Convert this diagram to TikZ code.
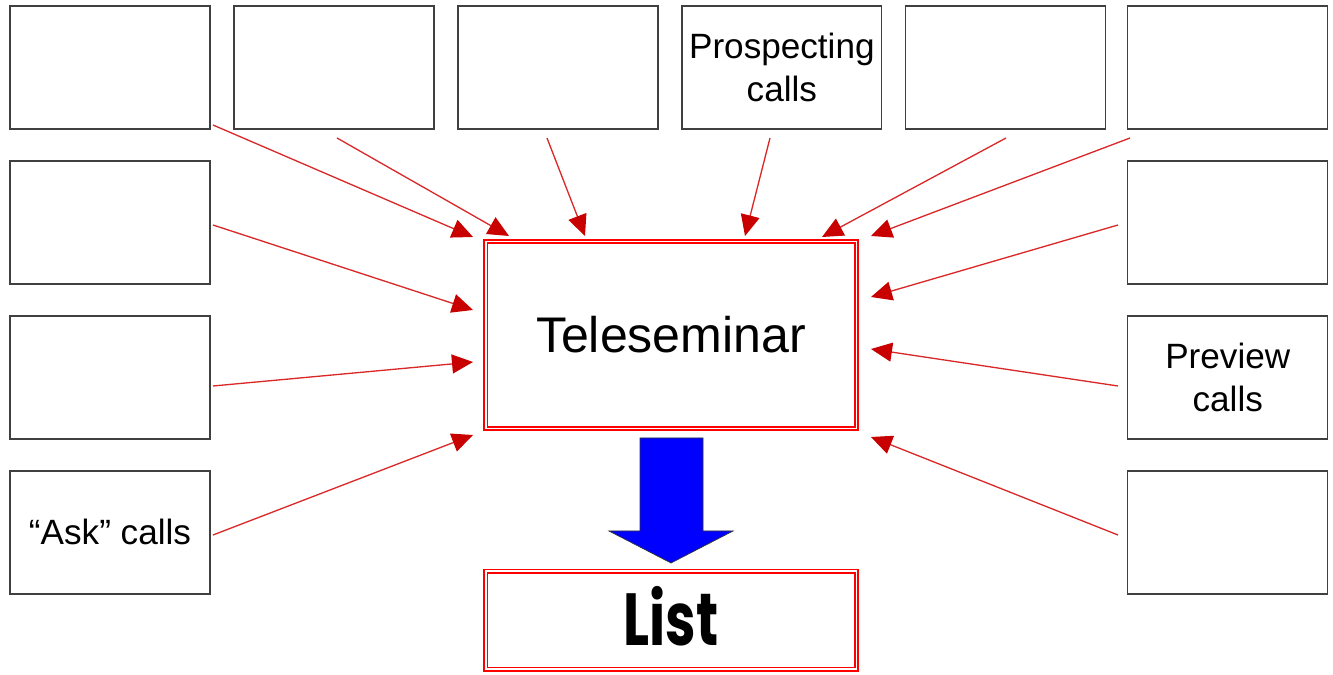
\documentclass[tikz,border=0pt]{standalone}
\usepackage{fontspec}
\setmainfont{Liberation Sans}
\newfontfamily\listfont{Poppins}
\usetikzlibrary{positioning}
\usetikzlibrary{arrows.meta}
\definecolor{feedred}{RGB}{218,40,40}
\definecolor{tipred}{RGB}{200,0,0}
\definecolor{boxgray}{RGB}{64,64,64}
\tikzset{
  source/.style={rectangle, draw=boxgray, line width=0.7pt, minimum width=4cm, minimum height=2.46cm, inner sep=0pt, outer sep=0pt, align=center, font=\fontsize{20}{24}\selectfont},
  hub/.style={rectangle, draw=red, line width=1pt, double=white, double distance=1.1pt, minimum width=7.42cm, inner sep=0pt, outer sep=0pt},
  feed/.style={draw=feedred, line width=0.75pt, -{Triangle[length=0.42cm, width=0.38cm, color=tipred]}},
  bigarrow/.style={draw=black!80, line width=0.4pt, fill=blue}
}

\begin{document}
\begin{tikzpicture}[x=0.02cm, y=-0.02cm]
	  \useasboundingbox (0,0) rectangle (1333,675);
	  % top row
	  \node[source] (t1) at (110,67.5) {};
	  \node[source, right=0.48cm of t1] (t2) {};
	  \node[source, right=0.48cm of t2] (t3) {};
	  \node[source, right=0.48cm of t3] (t4) {Prospecting\\calls};
	  \node[source, right=0.48cm of t4] (t5) {};
	  \node[source, right=0.44cm of t5] (t6) {};
	  % left column
	  \node[source, below=0.64cm of t1] (l1) {};
	  \node[source, below=0.64cm of l1] (l2) {};
	  \node[source, below=0.64cm of l2] (l3) {``Ask'' calls};
	  % right column
	  \node[source, below=0.64cm of t6] (r1) {};
	  \node[source, below=0.64cm of r1] (r2) {Preview\\calls};
	  \node[source, below=0.64cm of r2] (r3) {};
	  % centre
	  \node[hub, minimum height=3.74cm, font=\fontsize{28.5}{34}\selectfont] (tele) at (671,335) {Teleseminar};
	  \node[hub, minimum height=1.96cm, below=2.86cm of tele, font=\fontsize{42}{44}\selectfont] (list) {\raisebox{5pt}{\scalebox{0.74}[1]{\listfont\bfseries List}}};
	  % feeds into the teleseminar
	  \foreach \sx/\sy/\ex/\ey [count=\i] in {213/125/473/237, 337/138/509/236, 547/138/585/236, 770/138/745/236, 1006/138/822/237, 1130/138/871/236, 213/225/473/310, 213/386/473/362, 213/535/473/435, 1118/225/871/297, 1118/386/871/349, 1118/535/871/437}{
	    \coordinate (s\i) at (\sx,\sy);
	    \coordinate (e\i) at (\ex,\ey);
	    \draw[feed] (s\i) -- (e\i);
	  }
	  % down to the list
	  \draw[bigarrow] (640,438) -- (703,438) -- (703,531) -- (733,531) -- (671,563) -- (609,531) -- (640,531) -- cycle;
	\end{tikzpicture}
\end{document}
